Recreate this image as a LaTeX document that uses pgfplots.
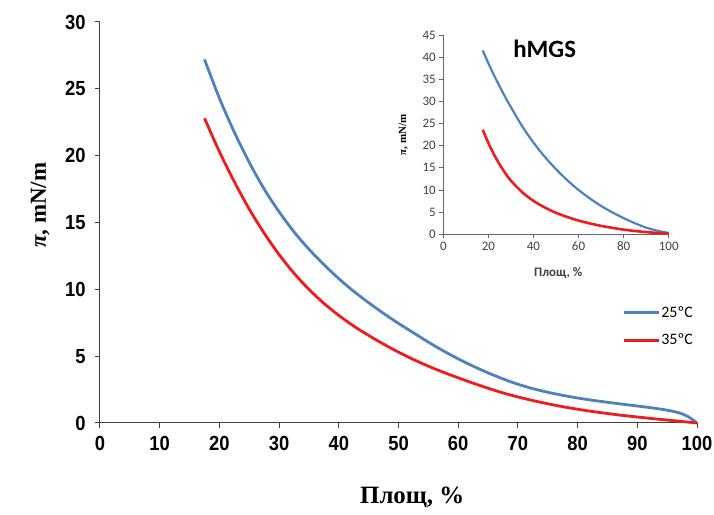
\documentclass[border=0pt]{standalone}
\usepackage{fontspec}
\setmainfont{Liberation Serif}
\newfontfamily\arialn[FakeStretch=0.9]{Liberation Sans}
\newfontfamily\calibri{Carlito}
\usepackage{pgfplots}
\pgfplotsset{compat=1.18}
\definecolor{xlblue}{HTML}{4F81BD}
\definecolor{xlred}{HTML}{EE1C1C}
\definecolor{axgrey}{HTML}{404040}

\begin{document}
\begin{tikzpicture}[x=1bp,y=1bp]
\path[use as bounding box] (-100,-92) rectangle (614,423);
% main plot
\begin{axis}[
  at={(0,0)}, anchor=south west,
  width=597bp, height=401bp, scale only axis,
  xmin=0, xmax=100, ymin=0, ymax=30,
  axis x line*=bottom, axis y line*=left,
  xtick={0,10,...,100}, ytick={0,5,...,30},
  tick align=outside, major tick length=5bp,
  axis line style={axgrey,line width=1bp},
  tick style={axgrey,line width=1bp},
  tick label style={font=\arialn\bfseries\fontsize{20.5}{20.5}\selectfont,text=black},
  xticklabel style={yshift=-5bp},
  yticklabel style={xshift=-6bp},
  /pgf/number format/assume math mode=true,
  clip=false,
  legend style={draw=none,fill=none,at={(axis cs:87.5,8.8)},anchor=north west,
    font=\calibri\fontsize{16}{16}\selectfont,row sep=13bp,inner sep=0pt,
    nodes={inner sep=1bp}},
  legend cell align=left,
  legend image code/.code={\draw[#1] (-2bp,0bp) -- (33bp,0bp);},
]
\addplot[xlblue,line width=2.8bp,smooth] coordinates {
  (17.5,27.2) (20,24.3) (22.5,21.75) (25,19.5) (27.5,17.5) (30,15.8)
  (32.5,14.3) (35,13.0) (37.5,11.85) (40,10.8) (42.5,9.85) (45,9.0)
  (47.5,8.2) (50,7.45) (52.5,6.75) (55,6.05) (57.5,5.4) (60,4.8) (62.5,4.25)
  (65,3.75) (67.5,3.3) (70,2.9) (72.5,2.57) (75,2.3) (77.5,2.07) (80,1.87)
  (82.5,1.7) (85,1.55) (87.5,1.41) (90,1.27) (92.5,1.13) (95,0.96)
  (97,0.76) (98.5,0.48) (100,0)};
\addplot[xlred,line width=2.8bp,smooth] coordinates {
  (17.5,22.8) (20,20.3) (22.5,18.05) (25,16.0) (27.5,14.2) (30,12.6)
  (32.5,11.2) (35,10.0) (37.5,8.95) (40,8.05) (42.5,7.25) (45,6.55)
  (47.5,5.9) (50,5.3) (52.5,4.75) (55,4.25) (57.5,3.8) (60,3.38) (62.5,2.98)
  (65,2.6) (67.5,2.25) (70,1.95) (72.5,1.68) (75,1.44) (77.5,1.22) (80,1.03)
  (82.5,0.86) (85,0.71) (87.5,0.57) (90,0.45) (92.5,0.33) (95,0.22)
  (97.5,0.11) (100,0)};
\legend{25ºC,35ºC}
\node[font=\bfseries\fontsize{25}{25}\selectfont] at ({rel axis cs:0.523,0}) [yshift=-74bp] {Площ, \%};
\node[font=\bfseries\fontsize{23}{23}\selectfont,rotate=90] at (axis cs:-10.05,16.3) {\textit{π}, mN/m};
\end{axis}
% inset
\begin{axis}[
  at={(343.3bp,188.7bp)}, anchor=south west,
  width=225.4bp, height=199.3bp, scale only axis,
  xmin=0, xmax=100, ymin=0, ymax=45,
  axis x line*=bottom, axis y line*=left,
  xtick={0,20,...,100}, ytick={0,5,...,45},
  tick align=outside, major tick length=4bp,
  axis line style={gray!80!black,line width=0.8bp},
  tick style={gray!80!black,line width=0.8bp},
  tick label style={font=\calibri\fontsize{13}{13}\selectfont,text=axgrey},
  /pgf/number format/assume math mode=true,
  clip=false,
]
\addplot[xlblue,line width=2.2bp,smooth] coordinates {
  (17.5,41.5) (20,38.6) (22.5,35.9) (25,33.4) (27.5,30.95) (30,28.7)
  (35,24.4) (40,20.7) (45,17.5) (50,14.7) (55,12.2) (60,10.0) (65,8.1)
  (70,6.4) (75,4.95) (80,3.65) (85,2.5) (90,1.5) (95,0.8) (100,0.3)};
\addplot[xlred,line width=2.6bp,smooth] coordinates {
  (17.5,23.6) (20,20.6) (22.5,18.0) (25,15.75) (27.5,13.8) (30,12.1)
  (35,9.5) (40,7.55) (45,6.05) (50,4.85) (55,3.9) (60,3.1) (65,2.45)
  (70,1.9) (75,1.45) (80,1.05) (85,0.75) (90,0.5) (95,0.3) (100,0.2)};
\node[font=\calibri\bfseries\fontsize{25}{25}\selectfont] at (axis cs:45,41.8) {hMGS};
\node[font=\calibri\bfseries\fontsize{13}{13}\selectfont,text=axgrey] at ({rel axis cs:0.51,0}) [yshift=-39bp] {Площ, \%};
\node[font=\bfseries\fontsize{11}{11}\selectfont,rotate=90] at (axis cs:-17.7,22.4) {\textit{π}, mN/m};
\end{axis}
\end{tikzpicture}
\end{document}
